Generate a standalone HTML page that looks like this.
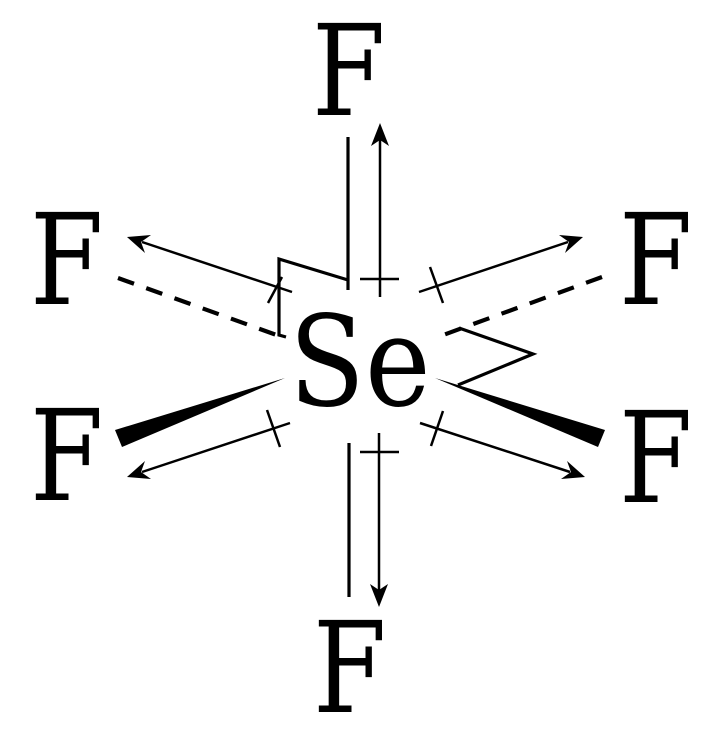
<!DOCTYPE html>
<html><head><meta charset="utf-8"><style>html,body{margin:0;padding:0;background:#fff}svg{display:block}
.t{font-family:"DejaVu Serif",serif;font-size:126px}</style></head>
<body>
<svg width="710" height="730" viewBox="0 0 710 730" xmlns="http://www.w3.org/2000/svg">
<g class="t" fill="#000">
<text transform="translate(312,115) scale(0.84,1)">F</text>
<text transform="translate(30,304) scale(0.84,1)">F</text>
<text transform="translate(30,500) scale(0.84,1)">F</text>
<text transform="translate(619,304) scale(0.84,1)">F</text>
<text transform="translate(619,502) scale(0.84,1)">F</text>
<text transform="translate(313,712) scale(0.84,1)">F</text>
<text transform="translate(289,405) scale(0.88,1)">Se</text>
</g>
<g stroke="#000" fill="none" stroke-width="3.2">
<line x1="348" y1="137" x2="348" y2="290"/>
<line x1="349" y1="443" x2="349" y2="597"/>
<polyline points="348,280 279,259 279,335 286,337"/>
<polyline points="459,328 533,354 458,385"/>
<line x1="118" y1="278" x2="285" y2="338" stroke-dasharray="17,13" stroke-width="4.2"/>
<line x1="602" y1="277" x2="435" y2="338" stroke-dasharray="17,13" stroke-width="4.2"/>
</g>
<g stroke="#000" fill="none" stroke-width="2.5">
<line x1="380" y1="297" x2="380" y2="140"/>
<line x1="360" y1="279" x2="399" y2="279"/>
<line x1="379" y1="433" x2="379" y2="592"/>
<line x1="360" y1="452" x2="399" y2="452"/>
<line x1="292" y1="292" x2="142" y2="242"/>
<line x1="268" y1="303" x2="282" y2="277"/>
<line x1="419" y1="292" x2="568" y2="242"/>
<line x1="430" y1="267" x2="443" y2="303"/>
<line x1="290" y1="423" x2="142" y2="472"/>
<line x1="267" y1="410" x2="280" y2="447"/>
<line x1="420" y1="423" x2="570" y2="472"/>
<line x1="443" y1="411" x2="431" y2="446"/>
</g>
<g fill="#000">
<polygon points="285,378 115,430 122,447"/>
<polygon points="435,378 605,430 598,447"/>
<polygon points="380,123 389,146 380,140 371,146"/>
<polygon points="379,607 370,584 379,590 388,584"/>
<polygon points="127,237 151,235 141,242 145,253"/>
<polygon points="583,237 559,235 569,242 565,253"/>
<polygon points="127,477 145,461 141,472 151,479"/>
<polygon points="585,477 567,461 571,472 561,479"/>
</g>
</svg>
</body></html>
